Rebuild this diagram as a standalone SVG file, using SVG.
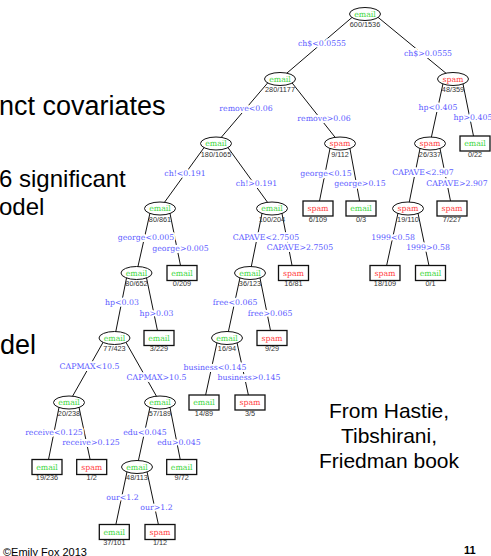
<svg xmlns="http://www.w3.org/2000/svg" width="491" height="556" viewBox="0 0 491 556">
<style>
.edge{stroke:#111;stroke-width:1;fill:none}
.split{font-family:"DejaVu Serif",serif;font-size:7.8px;fill:#5c5cff;text-anchor:middle;paint-order:stroke;stroke:#fff;stroke-width:4;stroke-linejoin:round}
.inner{fill:#fff;stroke:#111;stroke-width:1}
.leaf{fill:#fff;stroke:#111;stroke-width:1.3}
.cls{font-family:"DejaVu Serif",serif;font-size:7.8px;text-anchor:middle}
.em{fill:#3cd63c}
.sp{fill:#ff4040}
.cnt{font-family:"Liberation Sans",Arial,sans-serif;font-size:7.3px;fill:#333;text-anchor:middle}
.slide{font-family:"Liberation Sans",Arial,sans-serif;fill:#000}
</style>

<!-- slide text -->
<g class="slide">
  <text x="-1" y="115" font-size="27">nct covariates</text>
  <text x="-1" y="187" font-size="24">6 significant</text>
  <text x="-1" y="215" font-size="24">odel</text>
  <text x="0" y="354" font-size="27">del</text>
  <g font-size="21" text-anchor="middle">
    <text x="389" y="418">From Hastie,</text>
    <text x="389" y="443">Tibshirani,</text>
    <text x="389" y="468">Friedman book</text>
  </g>
  <text x="3" y="555.5" font-size="11">©Emily Fox 2013</text>
  <text x="464" y="554" font-size="11" font-weight="bold">11</text>
</g>

<!-- connectors with split labels -->
<g id="connectors">
  <line class="edge" x1="356" y1="14" x2="280" y2="79"/>
  <line class="edge" x1="374" y1="14" x2="453" y2="79"/>
  <line class="edge" x1="271" y1="79" x2="216" y2="143.5"/>
  <line class="edge" x1="289" y1="79" x2="340" y2="143.5"/>
  <line class="edge" x1="444" y1="79" x2="430" y2="143.5"/>
  <line class="edge" x1="462" y1="79" x2="475" y2="143.5"/>
  <line class="edge" x1="207" y1="143.5" x2="160" y2="208.5"/>
  <line class="edge" x1="225" y1="143.5" x2="272" y2="208.5"/>
  <line class="edge" x1="331" y1="143.5" x2="318" y2="208.5"/>
  <line class="edge" x1="349" y1="143.5" x2="361" y2="208.5"/>
  <line class="edge" x1="421" y1="143.5" x2="408" y2="208.5"/>
  <line class="edge" x1="439" y1="143.5" x2="452" y2="208.5"/>
  <line class="edge" x1="151" y1="208.5" x2="136.5" y2="273"/>
  <line class="edge" x1="169" y1="208.5" x2="182" y2="273"/>
  <line class="edge" x1="263" y1="208.5" x2="250" y2="273"/>
  <line class="edge" x1="281" y1="208.5" x2="293.5" y2="273"/>
  <line class="edge" x1="399" y1="208.5" x2="385" y2="273"/>
  <line class="edge" x1="417" y1="208.5" x2="430.5" y2="273"/>
  <line class="edge" x1="127.5" y1="273" x2="114.5" y2="338"/>
  <line class="edge" x1="145.5" y1="273" x2="159" y2="338"/>
  <line class="edge" x1="241" y1="273" x2="227" y2="338"/>
  <line class="edge" x1="259" y1="273" x2="272" y2="338"/>
  <line class="edge" x1="105.5" y1="338" x2="69" y2="402.5"/>
  <line class="edge" x1="123.5" y1="338" x2="160" y2="402.5"/>
  <line class="edge" x1="218" y1="338" x2="204" y2="402.5"/>
  <line class="edge" x1="236" y1="338" x2="250" y2="402.5"/>
  <line class="edge" x1="60" y1="402.5" x2="47" y2="467"/>
  <line class="edge" x1="78" y1="402.5" x2="91.7" y2="467"/>
  <line class="edge" x1="151" y1="402.5" x2="137" y2="467"/>
  <line class="edge" x1="169" y1="402.5" x2="181.7" y2="467"/>
  <line class="edge" x1="128" y1="467" x2="114.3" y2="532"/>
  <line class="edge" x1="146" y1="467" x2="160" y2="532"/>

  <text class="split" x="322" y="45.5">ch$&lt;0.0555</text>
  <text class="split" x="428" y="55.5">ch$&gt;0.0555</text>
  <text class="split" x="246" y="110.5">remove&lt;0.06</text>
  <text class="split" x="324" y="120.5">remove&gt;0.06</text>
  <text class="split" x="438" y="109.5">hp&lt;0.405</text>
  <text class="split" x="473" y="120">hp&gt;0.405</text>
  <text class="split" x="185" y="175.5">ch!&lt;0.191</text>
  <text class="split" x="256.5" y="185.5">ch!&gt;0.191</text>
  <text class="split" x="326" y="175.5">george&lt;0.15</text>
  <text class="split" x="360" y="185.5">george&gt;0.15</text>
  <text class="split" x="423" y="175">CAPAVE&lt;2.907</text>
  <text class="split" x="457" y="185.5">CAPAVE&gt;2.907</text>
  <text class="split" x="146" y="240">george&lt;0.005</text>
  <text class="split" x="180.5" y="250.5">george&gt;0.005</text>
  <text class="split" x="266" y="239.5">CAPAVE&lt;2.7505</text>
  <text class="split" x="300" y="250">CAPAVE&gt;2.7505</text>
  <text class="split" x="393" y="239.5">1999&lt;0.58</text>
  <text class="split" x="428" y="250">1999&gt;0.58</text>
  <text class="split" x="122" y="304.5">hp&lt;0.03</text>
  <text class="split" x="156.5" y="315.5">hp&gt;0.03</text>
  <text class="split" x="235" y="304.5">free&lt;0.065</text>
  <text class="split" x="270" y="315.5">free&gt;0.065</text>
  <text class="split" x="89.5" y="369">CAPMAX&lt;10.5</text>
  <text class="split" x="156.5" y="379.5">CAPMAX&gt;10.5</text>
  <text class="split" x="215" y="369.5">business&lt;0.145</text>
  <text class="split" x="249" y="379.5">business&gt;0.145</text>
  <text class="split" x="54" y="434.5">receive&lt;0.125</text>
  <text class="split" x="91" y="444.5">receive&gt;0.125</text>
  <text class="split" x="145" y="434.5">edu&lt;0.045</text>
  <text class="split" x="179" y="444.5">edu&gt;0.045</text>
  <text class="split" x="122.5" y="499.5">our&lt;1.2</text>
  <text class="split" x="156.5" y="510">our&gt;1.2</text>
</g>

<!-- internal nodes (ellipses) and leaves (boxes) -->
<g id="n0"><ellipse class="inner" cx="365" cy="14" rx="15.5" ry="6.5"/><text class="cls em" x="365" y="16.7">email</text><text class="cnt" x="365" y="27">600/1536</text></g>
<g id="n1"><ellipse class="inner" cx="280" cy="79" rx="15.5" ry="6.5"/><text class="cls em" x="280" y="81.7">email</text><text class="cnt" x="280" y="92">280/1177</text></g>
<g id="n2"><ellipse class="inner" cx="453" cy="79" rx="15.5" ry="6.5"/><text class="cls sp" x="453" y="81.7">spam</text><text class="cnt" x="453" y="92">48/359</text></g>
<g id="n3"><ellipse class="inner" cx="216" cy="143.5" rx="15.5" ry="6.5"/><text class="cls em" x="216" y="146.2">email</text><text class="cnt" x="216" y="156.5">180/1065</text></g>
<g id="n4"><ellipse class="inner" cx="340" cy="143.5" rx="15.5" ry="6.5"/><text class="cls sp" x="340" y="146.2">spam</text><text class="cnt" x="340" y="156.5">9/112</text></g>
<g id="n5"><ellipse class="inner" cx="430" cy="143.5" rx="15.5" ry="6.5"/><text class="cls sp" x="430" y="146.2">spam</text><text class="cnt" x="430" y="156.5">26/337</text></g>
<g id="n6"><rect class="leaf" x="460" y="136" width="30" height="15"/><text class="cls em" x="475" y="146.2">email</text><text class="cnt" x="475" y="156.5">0/22</text></g>
<g id="n7"><ellipse class="inner" cx="160" cy="208.5" rx="15.5" ry="6.5"/><text class="cls em" x="160" y="211.2">email</text><text class="cnt" x="160" y="221.5">80/861</text></g>
<g id="n8"><ellipse class="inner" cx="272" cy="208.5" rx="15.5" ry="6.5"/><text class="cls em" x="272" y="211.2">email</text><text class="cnt" x="272" y="221.5">100/204</text></g>
<g id="n9"><rect class="leaf" x="303" y="201" width="30" height="15"/><text class="cls sp" x="318" y="211.2">spam</text><text class="cnt" x="318" y="221.5">6/109</text></g>
<g id="n10"><rect class="leaf" x="346" y="201" width="30" height="15"/><text class="cls em" x="361" y="211.2">email</text><text class="cnt" x="361" y="221.5">0/3</text></g>
<g id="n11"><ellipse class="inner" cx="408" cy="208.5" rx="15.5" ry="6.5"/><text class="cls sp" x="408" y="211.2">spam</text><text class="cnt" x="408" y="221.5">19/110</text></g>
<g id="n12"><rect class="leaf" x="437" y="201" width="30" height="15"/><text class="cls sp" x="452" y="211.2">spam</text><text class="cnt" x="452" y="221.5">7/227</text></g>
<g id="n13"><ellipse class="inner" cx="136.5" cy="273" rx="15.5" ry="6.5"/><text class="cls em" x="136.5" y="275.7">email</text><text class="cnt" x="136.5" y="286">80/652</text></g>
<g id="n14"><rect class="leaf" x="167" y="265.5" width="30" height="15"/><text class="cls em" x="182" y="275.7">email</text><text class="cnt" x="182" y="286">0/209</text></g>
<g id="n15"><ellipse class="inner" cx="250" cy="273" rx="15.5" ry="6.5"/><text class="cls em" x="250" y="275.7">email</text><text class="cnt" x="250" y="286">36/123</text></g>
<g id="n16"><rect class="leaf" x="278.5" y="265.5" width="30" height="15"/><text class="cls sp" x="293.5" y="275.7">spam</text><text class="cnt" x="293.5" y="286">16/81</text></g>
<g id="n17"><rect class="leaf" x="370" y="265.5" width="30" height="15"/><text class="cls sp" x="385" y="275.7">spam</text><text class="cnt" x="385" y="286">18/109</text></g>
<g id="n18"><rect class="leaf" x="415.5" y="265.5" width="30" height="15"/><text class="cls em" x="430.5" y="275.7">email</text><text class="cnt" x="430.5" y="286">0/1</text></g>
<g id="n19"><ellipse class="inner" cx="114.5" cy="338" rx="15.5" ry="6.5"/><text class="cls em" x="114.5" y="340.7">email</text><text class="cnt" x="114.5" y="351">77/423</text></g>
<g id="n20"><rect class="leaf" x="144" y="330.5" width="30" height="15"/><text class="cls em" x="159" y="340.7">email</text><text class="cnt" x="159" y="351">3/229</text></g>
<g id="n21"><ellipse class="inner" cx="227" cy="338" rx="15.5" ry="6.5"/><text class="cls em" x="227" y="340.7">email</text><text class="cnt" x="227" y="351">16/94</text></g>
<g id="n22"><rect class="leaf" x="257" y="330.5" width="30" height="15"/><text class="cls sp" x="272" y="340.7">spam</text><text class="cnt" x="272" y="351">9/29</text></g>
<g id="n23"><ellipse class="inner" cx="69" cy="402.5" rx="15.5" ry="6.5"/><text class="cls em" x="69" y="405.2">email</text><text class="cnt" x="69" y="415.5">20/238</text></g>
<g id="n24"><ellipse class="inner" cx="160" cy="402.5" rx="15.5" ry="6.5"/><text class="cls em" x="160" y="405.2">email</text><text class="cnt" x="160" y="415.5">57/189</text></g>
<g id="n25"><rect class="leaf" x="189" y="395" width="30" height="15"/><text class="cls em" x="204" y="405.2">email</text><text class="cnt" x="204" y="415.5">14/89</text></g>
<g id="n26"><rect class="leaf" x="235" y="395" width="30" height="15"/><text class="cls sp" x="250" y="405.2">spam</text><text class="cnt" x="250" y="415.5">3/5</text></g>
<g id="n27"><rect class="leaf" x="32" y="459.5" width="30" height="15"/><text class="cls em" x="47" y="469.7">email</text><text class="cnt" x="47" y="480">19/236</text></g>
<g id="n28"><rect class="leaf" x="76.7" y="459.5" width="30" height="15"/><text class="cls sp" x="91.7" y="469.7">spam</text><text class="cnt" x="91.7" y="480">1/2</text></g>
<g id="n29"><ellipse class="inner" cx="137" cy="467" rx="15.5" ry="6.5"/><text class="cls em" x="137" y="469.7">email</text><text class="cnt" x="137" y="480">48/113</text></g>
<g id="n30"><rect class="leaf" x="166.7" y="459.5" width="30" height="15"/><text class="cls em" x="181.7" y="469.7">email</text><text class="cnt" x="181.7" y="480">9/72</text></g>
<g id="n31"><rect class="leaf" x="99.3" y="524.5" width="30" height="15"/><text class="cls em" x="114.3" y="534.7">email</text><text class="cnt" x="114.3" y="545">37/101</text></g>
<g id="n32"><rect class="leaf" x="145" y="524.5" width="30" height="15"/><text class="cls sp" x="160" y="534.7">spam</text><text class="cnt" x="160" y="545">1/12</text></g>
</svg>
